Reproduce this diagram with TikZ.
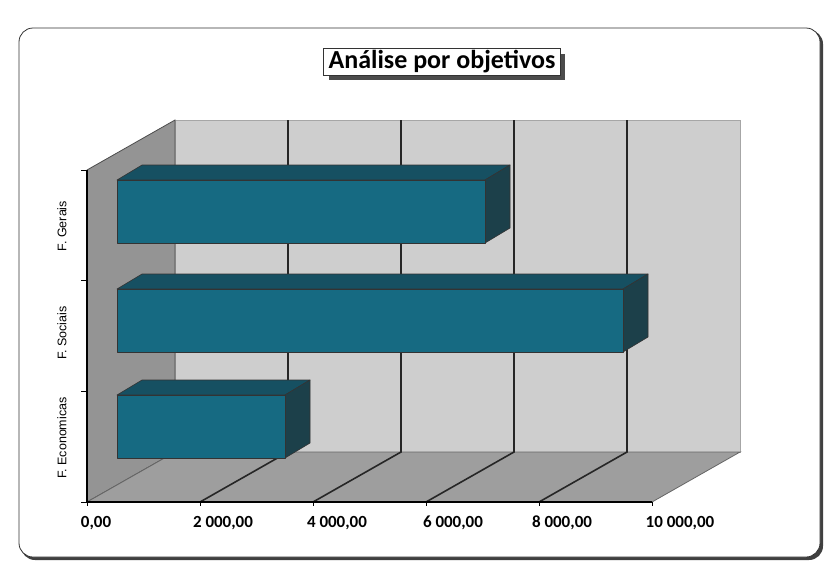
\documentclass[tikz,border=0pt]{standalone}
\usepackage{fontspec}
\newfontfamily\titlefont{Carlito}
\newfontfamily\catfont{Liberation Sans}
\usepackage{tikz}
\usetikzlibrary{shadows}

\definecolor{backwall}{RGB}{206,206,206}
\definecolor{sidewall}{RGB}{148,148,148}
\definecolor{floorgray}{RGB}{158,158,158}
\definecolor{barfront}{RGB}{22,106,130}
\definecolor{bartop}{RGB}{22,80,98}
\definecolor{barside}{RGB}{28,64,74}

\tikzset{
  grid line/.style={black!85, line width=1.6pt},
  bar face/.style={draw=black!80, line width=0.6pt, line join=round},
  tick label/.style={font=\titlefont\bfseries\fontsize{17}{17}\selectfont, inner sep=0pt},
  cat label/.style={font=\catfont\fontsize{12.5}{14}\selectfont, rotate=90, inner sep=0pt},
}

% one 3d bar: top of front face, right end of front face
\newcommand{\drawbar}[2]{%
  \filldraw[bar face, fill=bartop] (117,#1) -- (142,#1-15) -- (#2+25,#1-15) -- (#2,#1) -- cycle;
  \filldraw[bar face, fill=barside] (#2,#1) -- (#2+25,#1-15) -- (#2+25,#1+48) -- (#2,#1+63) -- cycle;
  \filldraw[bar face, fill=barfront] (117,#1) rectangle (#2,#1+63);
}

\begin{document}
\begin{tikzpicture}[x=1pt, y=-1pt, line width=0.8pt]
    \useasboundingbox (0,0) rectangle (826,574);

    % draw outer frame with its shadow
    \fill[black!75, rounded corners=14pt] (21,30) rectangle (823,560);
    \filldraw[draw=black!80, fill=white, rounded corners=14pt] (19,28) rectangle (820,557);

    % draw title
    \node[draw=black!80, fill=white, inner xsep=5pt, inner ysep=2pt,
          drop shadow={shadow xshift=5pt, shadow yshift=-5pt, fill=black!70, opacity=1},
          font=\titlefont\bfseries\fontsize{26}{28}\selectfont] (title) at (442,62) {Análise por objetivos};

    % draw back wall, left wall and floor
    \filldraw[fill=backwall, draw=black!35] (175,120) rectangle (740,452);
    \filldraw[fill=sidewall, draw=black!70] (175,120) -- (175,452) -- (87,502) -- (87,170) -- cycle;
    \filldraw[fill=floorgray, draw=black!60] (175,452) -- (740,452) -- (652,502) -- (87,502) -- cycle;

    % draw grid lines on wall and floor
    \foreach \i in {1,...,4}
      \draw[grid line] (175+113*\i,120) -- (175+113*\i,452) -- (87+113*\i,502);

    % draw axes and ticks
    \draw[black, line width=1.4pt] (87,170) -- (87,502) -- (652,502);
    \foreach \k in {0,...,3}
      \draw[black, line width=1pt] (81,170+110.67*\k) -- (87,170+110.67*\k);
    \foreach \i in {0,...,5}
      \draw[black, line width=1pt] (87+113*\i,502) -- (87+113*\i,506);

    % draw bars
    \drawbar{180}{485}
    \drawbar{289}{623}
    \drawbar{395}{285}

    % draw value labels
    \foreach \lbl/\lx [count=\i] in {{0,00}/96, {2 000,00}/223, {4 000,00}/337,
                                      {6 000,00}/453, {8 000,00}/562, {10 000,00}/680}
      \node[tick label] (tick\i) at (\lx,523) {\lbl};

    % draw category labels
    \node[cat label] (gerais) at (62,226) {F. Gerais};
    \node[cat label] (sociais) at (62,333) {F. Sociais};
    \node[cat label] (economicas) at (62,438) {F. Economicas};

\end{tikzpicture}
\end{document}
